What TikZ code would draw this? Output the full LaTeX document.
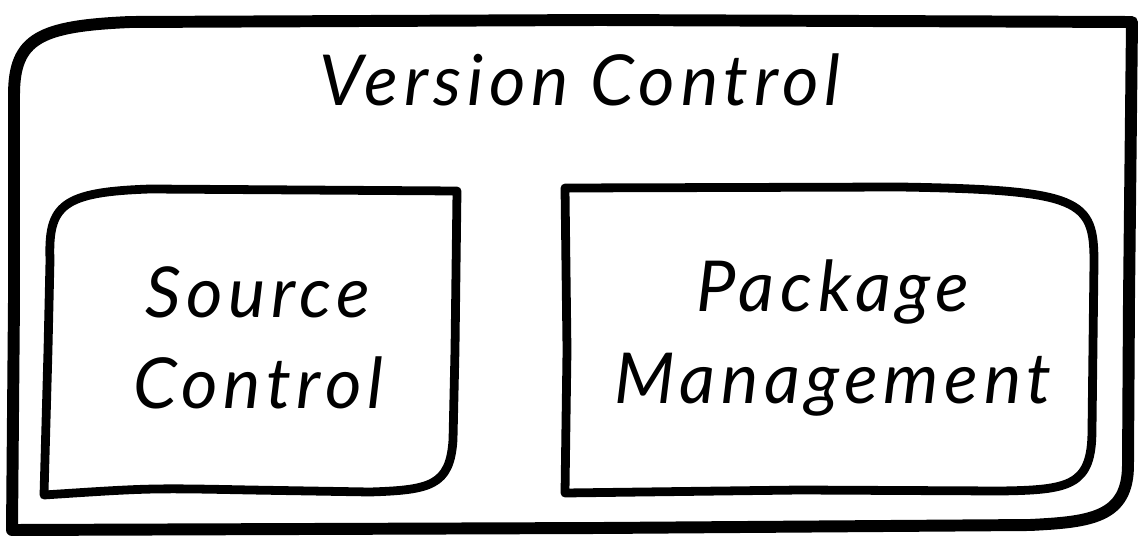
\documentclass[tikz,border=0pt]{standalone}
\usepackage{fontspec}
\setmainfont{Lato}[LetterSpace=8]
\begin{document}
\begin{tikzpicture}[
  x = 0.02cm, y = -0.02cm,
  outerline/.style = {line width = 6.8pt, line join = round, line cap = round},
  innerline/.style = {line width = 5pt, line join = round, line cap = round},
  label/.style = {font = \itshape\fontsize{40}{52}\selectfont, align = center, inner sep = 0pt},
]
\useasboundingbox (0,0) rectangle (1144,541);

% caixa exterior
\draw[outerline] (14,95) .. controls (14,38) and (40,26) .. (130,22) -- (600,20) -- (1132,22)
  -- (1129,300) -- (1128,465) .. controls (1128,518) and (1090,522) .. (1030,525)
  -- (600,528) -- (12,530) -- (14,300) -- cycle;

% caixas interiores
\draw[innerline] (50,260) .. controls (48,205) and (62,192) .. (150,189) -- (457,191)
  -- (455,350) -- (453,440) .. controls (450,486) and (430,490) .. (370,492)
  -- (250,490) .. controls (150,488) .. (44,495) -- (48,350) -- cycle;
\draw[innerline] (565,188) -- (900,187) .. controls (1082,190) and (1094,200) .. (1094,262)
  -- (1092,430) .. controls (1092,486) and (1070,490) .. (1000,491)
  -- (800,490) -- (565,493) -- (567,350) -- cycle;

\node[label] (title) at (580,80) {Version Control};
\node[label] (src) at (258,338) {Source\\Control};
\node[label] (pkg) at (833,338) {Package\\Management};
\end{tikzpicture}
\end{document}
